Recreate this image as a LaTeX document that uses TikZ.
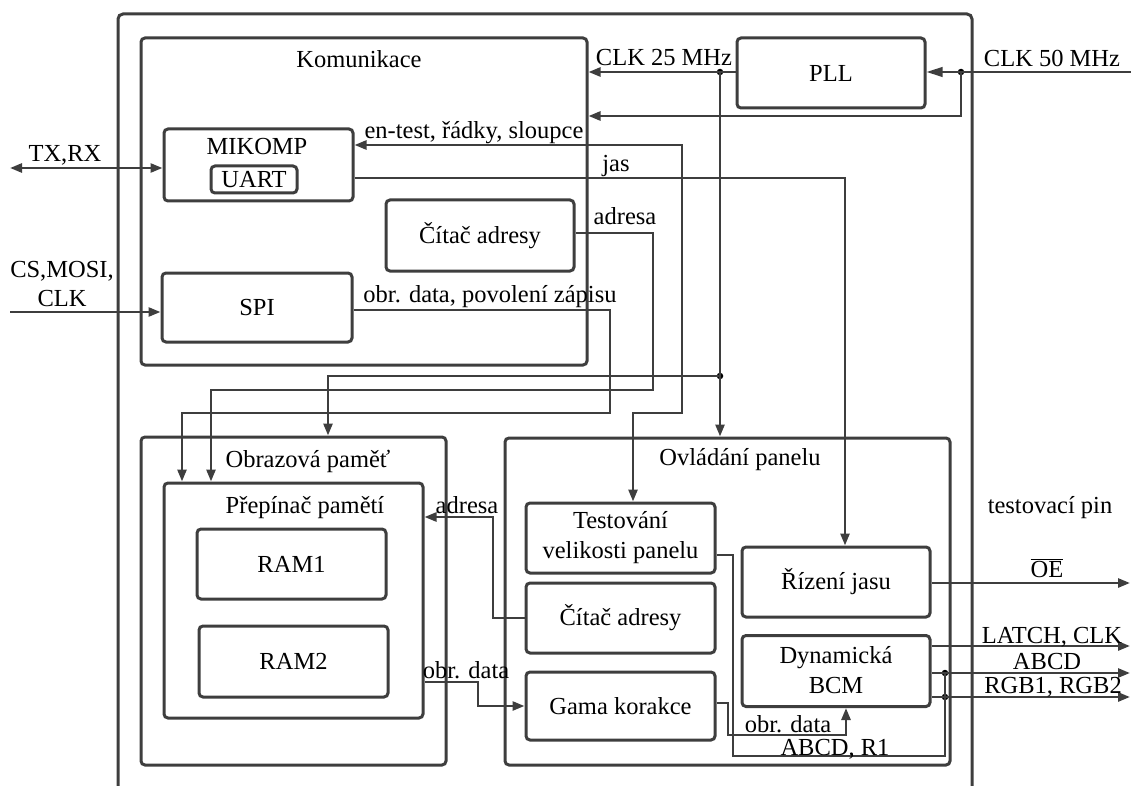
\documentclass[tikz,border=0pt]{standalone}
\usepackage{fontspec}
\setmainfont{Liberation Serif}
\usetikzlibrary{arrows.meta}
\definecolor{ink}{RGB}{62,62,62}
\begin{document}
\begin{tikzpicture}[x=1pt,y=-1pt,
  font=\fontsize{24.5}{30}\selectfont,
  box/.style={draw=ink, line width=3pt, rounded corners=4pt, inner sep=0pt, align=center},
  wire/.style={draw=ink, line width=2.6pt},
  arr/.style={wire, -{Triangle[length=12pt,width=9pt]}},
  darr/.style={wire, {Triangle[length=12pt,width=9pt]}-{Triangle[length=12pt,width=9pt]}},
  lbl/.style={inner sep=0pt, anchor=base},
  dot/.style={circle, fill=black, inner sep=0pt, minimum size=6.5pt},
]
\useasboundingbox (0,0) rectangle (1131,786);

% enclosing FPGA outline (open at the bottom)
\draw[ink, line width=3pt, rounded corners=5pt] (118,795) -- (118,14) -- (972,14) -- (972,795);

% blocks
\node[box, minimum width=446pt, minimum height=327pt] (komm) at (364,201.5) {};
\node[box, minimum width=188pt, minimum height=70pt] (pll) at (831,73) {PLL};
\node[box, minimum width=189pt, minimum height=72pt] (mikomp) at (258.5,165) {};
\node[box, minimum width=86pt, minimum height=27pt] (uart) at (254,179.5) {UART};
\node[box, minimum width=188pt, minimum height=71pt] (citac1) at (480,235.5) {Čítač adresy};
\node[box, minimum width=190pt, minimum height=69pt] (spi) at (257,307.5) {SPI};

\node[box, minimum width=305pt, minimum height=328pt] (obraz) at (293.5,601) {};
\node[box, minimum width=259pt, minimum height=235pt] (prep) at (293.5,600.5) {};
\node[box, minimum width=189pt, minimum height=70pt] (ram1) at (291.5,564) {RAM1};
\node[box, minimum width=189pt, minimum height=71pt] (ram2) at (293.5,661.5) {RAM2};

\node[box, minimum width=445pt, minimum height=327pt] (ovl) at (727.5,601.5) {};
\node[box, minimum width=189pt, minimum height=70pt] (test) at (620.5,538) {Testování\\velikosti panelu};
\node[box, minimum width=189pt, minimum height=70pt] (citac2) at (620.5,618) {Čítač adresy};
\node[box, minimum width=189pt, minimum height=68pt] (gama) at (620.5,706) {Gama korakce};
\node[box, minimum width=188pt, minimum height=70pt] (rizeni) at (836,582) {Řízení jasu};
\node[box, minimum width=188pt, minimum height=71pt, text depth=3pt] (bcm) at (836,671) {Dynamická\\BCM};

% junctions and free ends
\node[dot] (j50) at (961,72) {};
\node[dot] (j25) at (720,72) {};
\node[dot] (j25b) at (720,376) {};
\node[dot] (jA) at (945,673) {};
\node[dot] (jR) at (945,697) {};
\coordinate (in50) at (1131,72);
\coordinate (txrx) at (10,168);
\coordinate (csin) at (10,312);
\coordinate (oeout) at (1130,583);
\coordinate (latout) at (1130,646);
\coordinate (abcdout) at (1130,673);
\coordinate (rgbout) at (1130,697);

% clocks
\draw[wire, -{Triangle[length=16pt,width=9.5pt]}] (in50) -- (pll.east |- in50);
\draw[arr] (j50.center) |- (komm.east |- 0,116);
\draw[arr] (pll.west |- j25) -- (komm.east |- j25);
\draw[arr] (j25.center) -- (ovl.north -| j25);
\draw[arr] (j25b.center) -| (obraz.north -| 328,0);

% communication block signals
\draw[darr] (txrx) -- (mikomp.west |- txrx);
\draw[arr] (csin) -- (spi.west |- csin);
\draw[darr] (mikomp.east |- 0,145) -| (682,413) -| (test.north -| 633,0);
\draw[arr] (mikomp.east |- 0,178) -| (rizeni.north -| 845,0);
\draw[arr] (citac1.east |- 0,233) -| (653,390) -| (prep.north -| 211,0);
\draw[arr] (spi.east |- 0,310) -| (610,413) -| (prep.north -| 182,0);

% memory and panel control
\draw[arr] (citac2.west) -| (493,517) -- (prep.east |- 0,517);
\draw[arr] (prep.east |- 0,682) -| (478,706) -- (gama.west |- 0,706);
\draw[arr] (gama.east |- 0,703) -| (728,735) -| (bcm.south -| 846,0);
\draw[wire] (test.east |- 0,555) -| (733,756) -| (jA.center);

% panel outputs
\draw[arr] (rizeni.east |- oeout) -- (oeout);
\draw[arr] (bcm.east |- latout) -- (latout);
\draw[arr] (bcm.east |- abcdout) -- (abcdout);
\draw[arr] (bcm.east |- rgbout) -- (rgbout);

% labels
\node[lbl] (tKom) at (359,68) {Komunikace};
\node[lbl] (tMik) at (257,155) {MIKOMP};
\node[lbl] (t25) at (664,66) {CLK 25 MHz};
\node[lbl] (t50) at (1052,67) {CLK 50 MHz};
\node[lbl] (tTX) at (65,162) {TX,RX};
\node[lbl] (tEn) at (474,139) {en-test, řádky, sloupce};
\node[lbl] (tJas) at (616,172) {jas};
\node[lbl] (tAdr1) at (625,225) {adresa};
\node[lbl] (tCS) at (62,277) {CS,MOSI,};
\node[lbl] (tCLK) at (62,306) {CLK};
\node[lbl] (tObr1) at (490,302) {obr. data, povolení zápisu};
\node[lbl] (tObraz) at (308,467) {Obrazová paměť};
\node[lbl] (tOvl) at (740,465) {Ovládání panelu};
\node[lbl] (tPrep) at (305,513) {Přepínač pamětí};
\node[lbl] (tAdr2) at (467,513) {adresa};
\node[lbl] (tObr2) at (466,678) {obr. data};
\node[lbl] (tPin) at (1050,513) {testovací pin};
\node[lbl] (tOE) at (1047,577) {$\overline{\mbox{OE}}$};
\node[lbl] (tLatch) at (1052,643) {LATCH, CLK};
\node[lbl] (tABCD) at (1047,669) {ABCD};
\node[lbl] (tRGB) at (1053,693) {RGB1, RGB2};
\node[lbl] (tObr3) at (788,732) {obr. data};
\node[lbl] (tR1) at (835,755) {ABCD, R1};
\end{tikzpicture}
\end{document}
